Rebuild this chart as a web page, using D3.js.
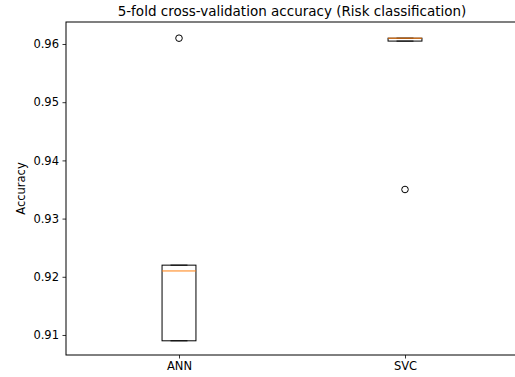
<!DOCTYPE html>
<html>
<head>
<meta charset="utf-8">
<script src="https://cdn.jsdelivr.net/npm/d3@7"></script>
<style>
  body { margin: 0; background: #fff; }
  svg { font-family: "DejaVu Sans", sans-serif; }
</style>
</head>
<body>
<div id="chart"></div>
<script>
// fold accuracies per model
var models = ["ANN", "SVC"];
var annScores = [0.909, 0.909, 0.921, 0.922, 0.961];
var svcScores = [0.935, 0.9605, 0.961, 0.961, 0.961];
var yTicks = [0.91, 0.92, 0.93, 0.94, 0.95, 0.96];

var width = 515, height = 377;
var margin = {top: 22, right: -3, bottom: 22, left: 66};

var svg = d3.select("#chart").append("svg")
    .attr("width", width)
    .attr("height", height);

var plotW = width - margin.left - margin.right;
var plotH = height - margin.top - margin.bottom;

var x = d3.scaleLinear().domain([0.5, 2.5]).range([0, plotW]);
var y = d3.scaleLinear().domain([0.90656, 0.96378]).range([plotH, 0]);

var g = svg.append("g")
    .attr("transform", "translate(" + margin.left + "," + margin.top + ")");

// boxplot stats, matplotlib style (1.5 IQR whiskers)
function stats(vals) {
  var s = vals.slice().sort(d3.ascending);
  var q1 = d3.quantile(s, 0.25), med = d3.quantile(s, 0.5), q3 = d3.quantile(s, 0.75);
  var iqr = q3 - q1;
  var lo = d3.min(s.filter(v => v >= q1 - 1.5 * iqr));
  var hi = d3.max(s.filter(v => v <= q3 + 1.5 * iqr));
  var out = s.filter(v => v < lo || v > hi);
  return {q1: q1, med: med, q3: q3, lo: lo, hi: hi, out: out};
}

var data = [annScores, svcScores].map(function(v, i) {
  var st = stats(v);
  st.pos = i + 1;
  st.name = models[i];
  return st;
});

var boxW = x(1.075) - x(0.925);
var capW = boxW / 2;

var boxes = g.selectAll("g.box").data(data).join("g").attr("class", "box");

// whiskers
boxes.append("line")
    .attr("x1", d => x(d.pos)).attr("x2", d => x(d.pos))
    .attr("y1", d => y(d.q1)).attr("y2", d => y(d.lo))
    .attr("stroke", "#000").attr("stroke-width", 1);
boxes.append("line")
    .attr("x1", d => x(d.pos)).attr("x2", d => x(d.pos))
    .attr("y1", d => y(d.q3)).attr("y2", d => y(d.hi))
    .attr("stroke", "#000").attr("stroke-width", 1);
// caps
boxes.append("line")
    .attr("x1", d => x(d.pos) - capW / 2).attr("x2", d => x(d.pos) + capW / 2)
    .attr("y1", d => y(d.lo)).attr("y2", d => y(d.lo))
    .attr("stroke", "#000").attr("stroke-width", 1);
boxes.append("line")
    .attr("x1", d => x(d.pos) - capW / 2).attr("x2", d => x(d.pos) + capW / 2)
    .attr("y1", d => y(d.hi)).attr("y2", d => y(d.hi))
    .attr("stroke", "#000").attr("stroke-width", 1);
// box
boxes.append("rect")
    .attr("x", d => x(d.pos) - boxW / 2)
    .attr("width", boxW)
    .attr("y", d => y(d.q3))
    .attr("height", d => Math.max(1, y(d.q1) - y(d.q3)))
    .attr("fill", "none")
    .attr("stroke", "#000").attr("stroke-width", 1);
// median
boxes.append("line")
    .attr("x1", d => x(d.pos) - boxW / 2).attr("x2", d => x(d.pos) + boxW / 2)
    .attr("y1", d => y(d.med)).attr("y2", d => y(d.med))
    .attr("stroke", "#ff7f0e").attr("stroke-width", 1);
// fliers
boxes.selectAll("circle").data(d => d.out.map(v => ({v: v, pos: d.pos}))).join("circle")
    .attr("cx", d => x(d.pos))
    .attr("cy", d => y(d.v))
    .attr("r", 3.3)
    .attr("fill", "none")
    .attr("stroke", "#000").attr("stroke-width", 1);

// axes
var yAxis = g.append("g")
    .call(d3.axisLeft(y).tickValues(yTicks).tickFormat(d3.format(".2f")).tickSize(3.5).tickPadding(3.5));
var xAxis = g.append("g")
    .attr("transform", "translate(0," + plotH + ")")
    .call(d3.axisBottom(x).tickValues([1, 2]).tickFormat((d, i) => models[i]).tickSize(3.5).tickPadding(3.5));

[xAxis, yAxis].forEach(function(a) {
  a.selectAll("text").attr("font-size", 11.5).attr("fill", "#000").attr("font-family", "DejaVu Sans");
  a.selectAll("line").attr("stroke", "#000").attr("stroke-width", 0.8);
  a.select(".domain").remove();
});

// frame
g.append("rect")
    .attr("x", 0).attr("y", 0)
    .attr("width", plotW).attr("height", plotH)
    .attr("fill", "none")
    .attr("stroke", "#000").attr("stroke-width", 1);

// labels
svg.append("text")
    .attr("x", margin.left + plotW / 2)
    .attr("y", 16)
    .attr("text-anchor", "middle")
    .attr("font-size", 13.5)
    .text("5-fold cross-validation accuracy (Risk classification)");

svg.append("text")
    .attr("transform", "translate(25," + (margin.top + plotH / 2) + ") rotate(-90)")
    .attr("text-anchor", "middle")
    .attr("font-size", 11.5)
    .text("Accuracy");
</script>
</body>
</html>
